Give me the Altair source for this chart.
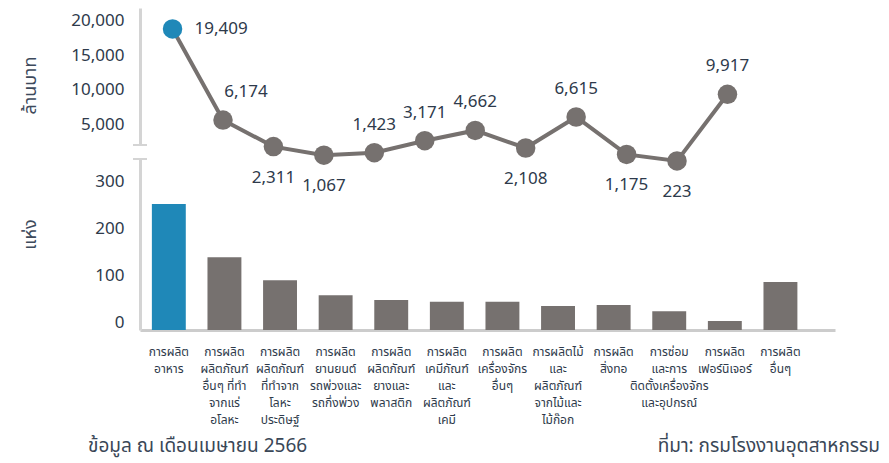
import altair as alt
import pandas as pd

# ---------------- data ----------------
categories = [
    "การผลิต|อาหาร",
    "การผลิต|ผลิตภัณฑ์|อื่นๆ ที่ทำ|จากแร่|อโลหะ",
    "การผลิต|ผลิตภัณฑ์|ที่ทำจาก|โลหะ|ประดิษฐ์",
    "การผลิต|ยานยนต์|รถพ่วงและ|รถกึ่งพ่วง",
    "การผลิต|ผลิตภัณฑ์|ยางและ|พลาสติก",
    "การผลิต|เคมีภัณฑ์|และ|ผลิตภัณฑ์|เคมี",
    "การผลิต|เครื่องจักร|อื่นๆ",
    "การผลิตไม้|และ|ผลิตภัณฑ์|จากไม้และ|ไม้ก๊อก",
    "การผลิต|สิ่งทอ",
    "การซ่อม|และการ|ติดตั้งเครื่องจักร|และอุปกรณ์",
    "การผลิต|เฟอร์นิเจอร์",
    "การผลิต|อื่นๆ",
]
investment = [19409, 6174, 2311, 1067, 1423, 3171, 4662, 2108, 6615, 1175, 223, 9917]
factories = [268, 155, 106, 74, 64, 60, 60, 51, 53, 40, 19, 102]
label_side = ["right", "above-right", "below", "below", "above", "above",
              "above", "below", "above", "below", "below", "above"]
top_ticks = [5000, 10000, 15000, 20000]
bottom_ticks = [0, 100, 200, 300]
top_title = "ล้านบาท"
bottom_title = "แห่ง"
footer_left = "ข้อมูล ณ เดือนเมษายน 2566"
footer_right = "ที่มา: กรมโรงงานอุตสาหกรรม"

df = pd.DataFrame({"cat": categories, "inv": investment, "fac": factories, "side": label_side})
df["inv_label"] = df["inv"].map("{:,}".format)

# ---------------- style ----------------
FONT = "Noto Sans Thai, Noto Sans"
BLUE = "#1f88b8"
GRAY = "#76716f"
TEXT = "#2e3a4b"
AXIS = "#d4d4d4"
H1, W1 = 137, 620
H2, W2 = 171, 695

hl = alt.condition(alt.datum.cat == categories[0], alt.value(BLUE), alt.value(GRAY))

# ---------------- top: investment line ----------------
xtop = alt.X("cat:N", sort=None, axis=None, scale=alt.Scale(type="point", padding=0.645))
ytop = alt.Y(
    "inv:Q",
    scale=alt.Scale(domain=[2544, 22456], nice=False, zero=False),
    axis=alt.Axis(values=top_ticks, format=",.0f", title=top_title, titleX=-110, titleY=77,
                  titleAngle=-90, titleBaseline="middle", titleAlign="center",
                  labelOffset=-4, labelPadding=16, ticks=False, grid=False,
                  domainColor=AXIS, domainWidth=3, labelFontSize=17, labelColor=TEXT,
                  titleFontSize=18, titleColor="#3d4a5c", titleFontWeight="normal"),
)
base_top = alt.Chart(df).encode(x=xtop, y=ytop)
line = base_top.mark_line(color=GRAY, strokeWidth=4)
pts = base_top.mark_circle(size=380, opacity=1).encode(color=hl)
txt_kw = dict(fontSize=17, color=TEXT, font=FONT)
lab_above = base_top.mark_text(dy=-28, **txt_kw).encode(text="inv_label:N").transform_filter(alt.datum.side == "above")
lab_above_r = base_top.mark_text(dy=-28, dx=23, **txt_kw).encode(text="inv_label:N").transform_filter(alt.datum.side == "above-right")
lab_below = base_top.mark_text(dy=31, **txt_kw).encode(text="inv_label:N").transform_filter(alt.datum.side == "below")
lab_right = base_top.mark_text(dx=22, align="left", **txt_kw).encode(text="inv_label:N").transform_filter(alt.datum.side == "right")
brk_top = alt.Chart(pd.DataFrame({"a": [0]})).mark_rule(color=AXIS, strokeWidth=2).encode(
    x=alt.value(-7), x2=alt.value(7), y=alt.value(H1))
top = alt.layer(line, pts, lab_above, lab_above_r, lab_below, lab_right, brk_top).properties(width=W1, height=H1)

# ---------------- bottom: factories bars ----------------
xb = alt.X(
    "cat:N", sort=None, title=None,
    scale=alt.Scale(paddingInner=0.39, paddingOuter=0.445, align=0.24),
    axis=alt.Axis(labelExpr="split(datum.label, '|')", labelAngle=0, labelPadding=16,
                  labelLineHeight=17, labelFontSize=12, labelColor=TEXT, ticks=False,
                  labelOverlap=False, domainColor="#cccccc", domainWidth=3, labelBaseline="top"),
)
yb = alt.Y(
    "fac:Q",
    scale=alt.Scale(domain=[0, 364], nice=False),
    axis=alt.Axis(values=bottom_ticks, title=bottom_title, titleX=-110, titleY=75,
                  titleAngle=-90, titleBaseline="middle", titleAlign="center",
                  labelOffset=-8, labelPadding=16, ticks=False, grid=False,
                  domainColor=AXIS, domainWidth=3, labelFontSize=17, labelColor=TEXT,
                  titleFontSize=18, titleColor="#3d4a5c", titleFontWeight="normal"),
)
bars = alt.Chart(df).mark_bar().encode(x=xb, y=yb, color=hl)
brk_bot = alt.Chart(pd.DataFrame({"a": [0]})).mark_rule(color=AXIS, strokeWidth=2).encode(
    x=alt.value(-7), x2=alt.value(7), y=alt.value(0))
foot_l = alt.Chart(pd.DataFrame({"t": [footer_left]})).mark_text(
    align="left", baseline="middle", fontSize=19, color="#3a4757", font=FONT).encode(
    x=alt.value(-52), y=alt.value(287), text="t:N")
foot_r = alt.Chart(pd.DataFrame({"t": [footer_right]})).mark_text(
    align="right", baseline="middle", fontSize=19, color="#3a4757", font=FONT).encode(
    x=alt.value(740), y=alt.value(287), text="t:N")
bottom = alt.layer(bars, brk_bot, foot_l, foot_r).properties(width=W2, height=H2)

chart = (
    alt.vconcat(top, bottom, spacing=14, bounds="flush")
    .properties(padding={"left": 12, "top": 0, "right": 0, "bottom": 30})
    .configure(font=FONT)
    .configure_view(stroke=None)
)
chart.save("out.html", embed_options={"renderer": "svg", "actions": False})
